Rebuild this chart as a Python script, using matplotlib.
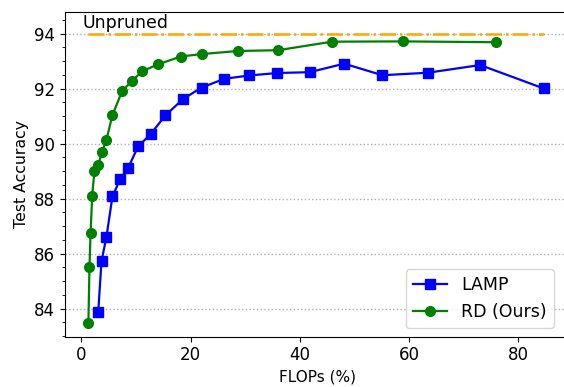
import matplotlib
matplotlib.use('Agg')
import matplotlib.pyplot as plt
from matplotlib.ticker import AutoMinorLocator

# data
lamp_flops = [3.1, 3.7, 4.6, 5.7, 7.1, 8.6, 10.4, 12.7, 15.4, 18.6, 22.0, 26.2, 30.7, 35.9, 41.8, 48.1, 55.1, 63.4, 73.0, 84.6]
lamp_acc = [83.87, 85.73, 86.6, 88.08, 88.7, 89.13, 89.9, 90.35, 91.03, 91.62, 92.04, 92.36, 92.48, 92.57, 92.6, 92.91, 92.49, 92.58, 92.86, 92.01]

rd_flops = [1.3, 1.5, 1.7, 2.0, 2.4, 3.1, 3.8, 4.6, 5.7, 7.5, 9.3, 11.2, 14.0, 18.2, 22.1, 28.6, 36.0, 45.9, 58.9, 75.8]
rd_acc = [83.47, 85.53, 86.75, 88.11, 89.0, 89.22, 89.7, 90.14, 91.04, 91.92, 92.29, 92.64, 92.88, 93.17, 93.26, 93.37, 93.4, 93.71, 93.72, 93.69]

unpruned = 94.0

fig = plt.figure(figsize=(5.64, 3.87), dpi=100)
ax = fig.add_axes([65/564, 50.3/387, 505/564, 325/387])

ax.plot(lamp_flops, lamp_acc, '-s', color='blue', lw=1.6, markersize=7, label='LAMP')
ax.plot(rd_flops, rd_acc, '-o', color='green', lw=1.6, markersize=7, label='RD (Ours)')
ax.hlines(unpruned, min(rd_flops), max(lamp_flops), colors='orange', linestyles='-.', lw=1.8)
ax.text(0.3, 94.2, 'Unpruned', fontsize=12.5)

ax.set_xlim(-2.98, 89.43)
ax.set_ylim(82.98, 94.8)
ax.yaxis.set_minor_locator(AutoMinorLocator(4))
ax.grid(axis='y', which='major', linestyle=':', color='#b0b0b0', lw=1)
ax.tick_params(labelsize=12)
ax.set_xlabel('FLOPs (%)', fontsize=11)
ax.set_ylabel('Test Accuracy', fontsize=11.3)
ax.legend(loc='lower right', fontsize=12.5, bbox_to_anchor=(0.985, 0.0))

fig.savefig('out.png', dpi=100)
